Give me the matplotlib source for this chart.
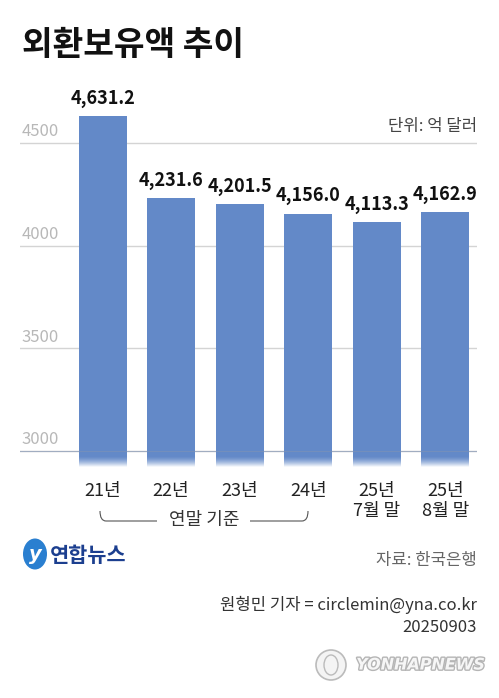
import numpy as np
import matplotlib
matplotlib.use("Agg")
import matplotlib.pyplot as plt
import matplotlib.patheffects as pe
from matplotlib.patches import Ellipse
from matplotlib.path import Path
from matplotlib.patches import PathPatch

plt.rcParams['font.family'] = ['Noto Sans CJK KR', 'DejaVu Sans']

categories = ["21년", "22년", "23년", "24년", "25년\n7월 말", "25년\n8월 말"]
values = [4631.2, 4231.6, 4201.5, 4156.0, 4113.3, 4162.9]
value_labels = ["4,631.2", "4,231.6", "4,201.5", "4,156.0", "4,113.3", "4,162.9"]
yticks = [3000, 3500, 4000, 4500]
title = "외환보유액 추이"
unit = "단위: 억 달러"
bracket_label = "연말 기준"
source = "자료: 한국은행"
credit = "원형민 기자 = circlemin@yna.co.kr"
date = "20250903"

W, H = 499, 698
fig = plt.figure(figsize=(W / 100, H / 100), dpi=100)
fig.patch.set_facecolor("white")

def fx(px):
    return px / W

def fy(py):
    return 1 - py / H

# axes: pixel x 20..477, y 100..467
ax = fig.add_axes([fx(20), fy(467), fx(477) - fx(20), fy(100) - fy(467)])
ymin, ymax = 2922, 4709
xl, xr = -1.203, 5.46
ax.axis("off")

bar_color = "#6389c8"
x = np.arange(len(values))
ax.bar(x, np.array(values) - ymin, bottom=ymin, width=0.70, color=bar_color, zorder=2)

# grid lines
for t in yticks:
    ax.axhline(t, color="#d4d4d4", lw=1.0, zorder=1)
    if t == 3000:
        ax.axhline(t, color="#7f93b5", lw=0.8, zorder=4, alpha=0.6)
    ax.annotate(str(t), xy=(0, t), xycoords=("axes fraction", "data"),
                xytext=(1, 2), textcoords="offset points", ha="left", va="bottom",
                fontsize=12, color="#b8b8b8", fontweight="light")

# fade at bottom
grad = np.ones((64, 2, 4))
grad[:, :, 3] = np.linspace(1, 0, 64)[:, None] ** 1.5
ax.imshow(grad, extent=[xl, xr, ymin, 2972], origin="lower", aspect="auto", zorder=3)
ax.set_ylim(ymin, ymax)
ax.set_xlim(xl, xr)

# value labels
for xi, v, lab in zip(x, values, value_labels):
    ax.annotate(lab, xy=(xi, v), xytext=(0, 6), textcoords="offset points",
                ha="center", va="bottom", fontsize=13, color="#111111",
                fontweight="bold")

# category labels
for xi, c in zip(x, categories):
    ax.annotate(c, xy=(xi, 0), xycoords=("data", "axes fraction"),
                xytext=(0, -11), textcoords="offset points", ha="center", va="top",
                fontsize=13, color="#222222", linespacing=1.1,
                annotation_clip=False)

# title
fig.text(fx(22), fy(46), title, fontsize=24, fontweight="bold", color="#111111",
         ha="left", va="center")
fig.text(fx(477), fy(126), unit, fontsize=12, color="#444444", ha="right", va="center")

# bracket
y_line = fy(521)
y_up = fy(511)
r = 6
codes = [Path.MOVETO, Path.CURVE3, Path.CURVE3, Path.LINETO]
verts_l = [(fx(100), y_up), (fx(100), y_line), (fx(100 + r), y_line), (fx(157), y_line)]
fig.patches.append(PathPatch(Path(verts_l, codes), transform=fig.transFigure,
                             fill=False, edgecolor="#555555", lw=0.8))
verts_r = [(fx(308), y_up), (fx(308), y_line), (fx(308 - r), y_line), (fx(250), y_line)]
fig.patches.append(PathPatch(Path(verts_r, codes), transform=fig.transFigure,
                             fill=False, edgecolor="#555555", lw=0.8))
fig.text(fx(204), fy(520), bracket_label, fontsize=13, color="#333333",
         ha="center", va="center")

# Yonhap logo
fig.patches.append(Ellipse((fx(35), fy(554)), fx(24), fy(0) - fy(31),
                           transform=fig.transFigure, facecolor="#2a7fd0",
                           edgecolor="none"))
fig.text(fx(35), fy(554), "y", fontsize=14, fontstyle="italic", fontweight="bold",
         color="white", ha="center", va="center", family="DejaVu Sans")
fig.text(fx(50), fy(555), "연합뉴스", fontsize=15, fontweight="heavy", color="#1c3f8f",
         ha="left", va="center")

fig.text(fx(477), fy(560), source, fontsize=12, color="#666666", ha="right", va="center")
fig.text(fx(477), fy(605), credit, fontsize=12, color="#333333", ha="right", va="center")
fig.text(fx(477), fy(627), date, fontsize=12, color="#333333", ha="right", va="center")

# watermark
fig.patches.append(Ellipse((fx(331), fy(665)), fx(30), fy(0) - fy(30),
                           transform=fig.transFigure, facecolor="#f4f4f4",
                           edgecolor="#bbbbbb", lw=1.2))
fig.patches.append(Ellipse((fx(331), fy(665)), fx(14), fy(0) - fy(20),
                           transform=fig.transFigure, facecolor="none",
                           edgecolor="#bbbbbb", lw=1.0))
fig.text(fx(485), fy(665), "YONHAPNEWS", fontsize=11.5, fontstyle="italic",
         fontweight="heavy", color="#f6f6f6", ha="right", va="center",
         family="DejaVu Sans",
         path_effects=[pe.withStroke(linewidth=2, foreground="#b5b5b5")])

fig.savefig("out.png", dpi=100, facecolor="white")
